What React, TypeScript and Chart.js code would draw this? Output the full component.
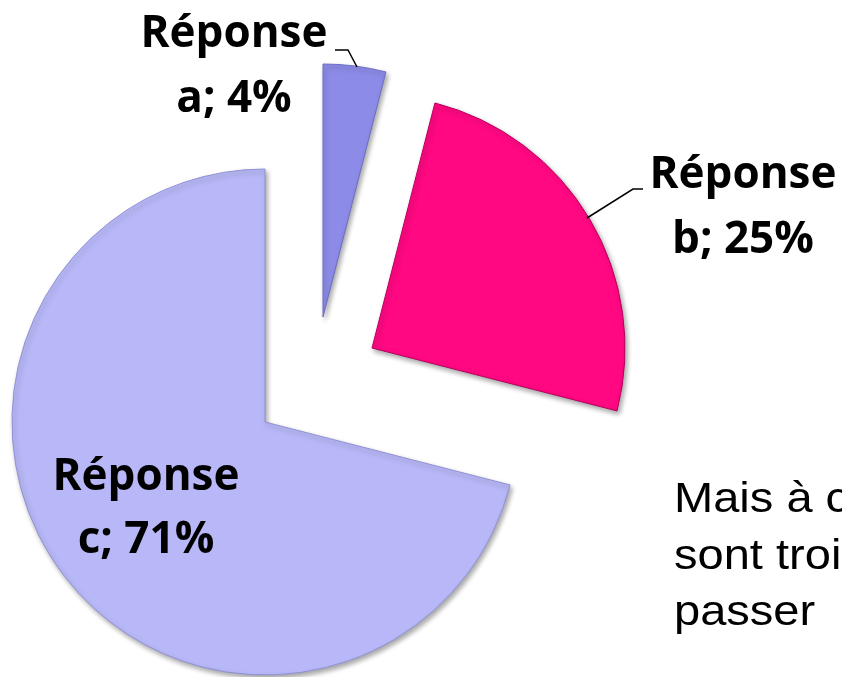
import React, { useEffect, useRef } from "react";
import { Chart, registerables } from "chart.js";

Chart.register(...registerables);

// ---- data ----
const categories = ["Réponse a", "Réponse b", "Réponse c"];
const percentages = [4, 25, 71];
const sliceColors = ["#8C8CE8", "#FF0882", "#B8B8F8"];
const sliceBorders = ["#6C6CC4", "#B8005E", "#9090D4"];
const sideText = ["Mais à c", "sont troi", "passer"];

// ---- style / layout (not data) ----
const explodeShift = [
  { dx: 58, dy: -105 },
  { dx: 107, dy: -74 },
  { dx: 0, dy: 0 },
];
const labelPlace = [
  { x: 234, y: 47, gap: 65 },
  { x: 743, y: 188, gap: 65 },
  { x: 146, y: 490, gap: 63 },
];
const leaderLines = [
  [
    [335, 50],
    [348, 50],
    [357, 67],
  ],
  [
    [643, 189],
    [633, 189],
    [587, 218],
  ],
];
const LABEL_FONT = "bold 44px 'Open Sans'";
const SIDE_FONT = "42px 'Liberation Sans'";
const SIDE_STRETCH = 1.12;

const explodePlugin = {
  id: "explodeSlices",
  afterDatasetsUpdate(chart: any) {
    const meta = chart.getDatasetMeta(0);
    meta.data.forEach((el: any, i: number) => {
      const s = explodeShift[i];
      if (s) {
        el.x += s.dx;
        el.y += s.dy;
      }
    });
  },
  beforeDatasetsDraw(chart: any) {
    const ctx = chart.ctx;
    ctx.save();
    ctx.shadowColor = "rgba(0,0,0,0.35)";
    ctx.shadowBlur = 5;
    ctx.shadowOffsetX = 2;
    ctx.shadowOffsetY = 3;
  },
  afterDatasetsDraw(chart: any) {
    chart.ctx.restore();
  },
};

const labelPlugin = {
  id: "sliceLabels",
  afterDraw(chart: any) {
    const ctx = chart.ctx;
    ctx.save();
    // leader lines
    ctx.strokeStyle = "#000";
    ctx.lineWidth = 1.5;
    leaderLines.forEach((pts) => {
      ctx.beginPath();
      pts.forEach(([x, y], k) => (k === 0 ? ctx.moveTo(x, y) : ctx.lineTo(x, y)));
      ctx.stroke();
    });
    // slice labels
    ctx.fillStyle = "#000";
    ctx.font = LABEL_FONT;
    ctx.textAlign = "center";
    ctx.textBaseline = "alphabetic";
    categories.forEach((cat, i) => {
      const parts = cat.split(" ");
      const p = labelPlace[i];
      ctx.fillText(parts[0], p.x, p.y);
      ctx.fillText(`${parts[1]}; ${percentages[i]}%`, p.x, p.y + p.gap);
    });
    // side text
    ctx.font = SIDE_FONT;
    ctx.textAlign = "left";
    ctx.translate(674, 0);
    ctx.scale(SIDE_STRETCH, 1);
    sideText.forEach((t, k) => ctx.fillText(t, 0, 512 + k * 56.5));
    ctx.restore();
  },
};

export default function App() {
  const ref = useRef<HTMLCanvasElement | null>(null);
  useEffect(() => {
    if (!ref.current) return;
    const chart = new Chart(ref.current, {
      type: "pie",
      data: {
        labels: categories,
        datasets: [
          {
            data: percentages,
            backgroundColor: sliceColors,
            borderColor: sliceBorders,
            borderWidth: 1,
            radius: 253,
          } as any,
        ],
      },
      options: {
        responsive: false,
        animation: false,
        layout: { padding: { left: 0, right: 312, top: 167, bottom: 0 } },
        plugins: {
          legend: { display: false },
          tooltip: { enabled: false },
        },
        events: [],
      },
      plugins: [explodePlugin, labelPlugin],
    });
    return () => chart.destroy();
  }, []);
  return (
    <div style={{ position: "fixed", left: 0, top: 0, width: 842, height: 677, background: "#fff" }}>
      <canvas ref={ref} width={842} height={677} />
    </div>
  );
}
